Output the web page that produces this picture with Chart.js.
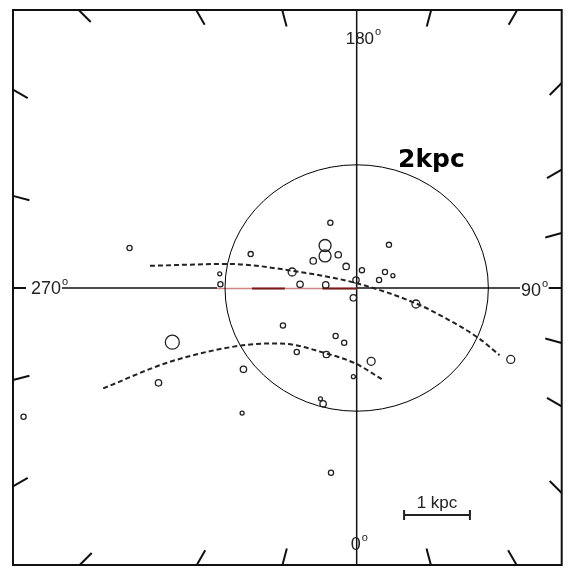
<!DOCTYPE html>
<html>
<head>
<meta charset="utf-8">
<script src="https://cdn.jsdelivr.net/npm/chart.js@4.4.0/dist/chart.umd.min.js"></script>
<style>
  html, body { margin: 0; padding: 0; background: #fff; }
  canvas { display: block; }
</style>
</head>
<body>
<canvas id="mapChart" width="570" height="575"></canvas>
<script>
// positions in kpc from the Sun: x toward l=90, y toward l=180
const clusterX = [-0.40, -0.48, -0.48, -0.28, -0.66, -0.16, -0.98, -0.01, 0.08, 0.49,
                  0.43, 0.55, 0.34, -1.61, -3.45, -2.08, -2.07, -0.86, -0.47, -0.05,
                  0.90, -1.12, -0.32, -0.19, -2.80, -0.91, -0.46, 0.22, -1.72, -3.01,
                  -0.05, -0.55, -0.51, 2.34, -5.06, -1.74, -0.39];
const clusterY = [1.06, 0.69, 0.52, 0.54, 0.44, 0.35, 0.26, 0.13, 0.29, 0.70,
                  0.26, 0.20, 0.13, 0.55, 0.65, 0.23, 0.06, 0.06, 0.05, -0.16,
                  -0.26, -0.61, -0.78, -0.89, -0.88, -1.04, -1.08, -1.19, -1.32, -1.54,
                  -1.44, -1.80, -1.88, -1.16, -2.09, -2.03, -3.00];
// symbol size class, 1 = smallest
const clusterSize = [2, 5, 5, 3, 3, 3, 4, 3, 2, 2,
                     2, 1, 2, 2, 2, 1, 2, 3, 3, 3,
                     4, 2, 2, 2, 6, 2, 3, 4, 3, 3,
                     1, 1, 3, 4, 2, 1, 2];

// dashed arm traces
const armUpperX = [-3.14, -1.96, -0.87, -0.01, 0.90, 1.35, 1.86, 2.17];
const armUpperY = [0.36, 0.39, 0.26, 0.08, -0.25, -0.49, -0.82, -1.09];
const armLowerX = [-3.85, -2.84, -1.73, -1.17, -0.47, -0.01, 0.38];
const armLowerY = [-1.63, -1.20, -0.93, -0.90, -1.06, -1.23, -1.48];

const longitudeLabels = ['0', '90', '180', '270'];
const circleRadius = 2;     // kpc
const circleLabel = '2kpc';
const barLabel = '1 kpc';
const barStart = 0.72;      // kpc
const barLength = 1;        // kpc
const barY = -3.685;
const redSpan = [-2.12, 0];
const redDark = [[-1.59, -1.09], [-0.52, 0]];
const tickStep = 15;        // degrees

const sizeRadius = [0, 2, 2.6, 3.2, 4, 6, 7];

function toPoints(xs, ys) {
  return xs.map((x, i) => ({ x: x, y: ys[i] }));
}

function frameTick(ctx, area, cx, cy, deg, len) {
  const a = deg * Math.PI / 180;
  const dx = Math.sin(a), dy = Math.cos(a);
  let t = Infinity;
  if (dx > 1e-9) t = Math.min(t, (area.right - cx) / dx);
  if (dx < -1e-9) t = Math.min(t, (area.left - cx) / dx);
  if (dy > 1e-9) t = Math.min(t, (area.bottom - cy) / dy);
  if (dy < -1e-9) t = Math.min(t, (area.top - cy) / dy);
  ctx.moveTo(cx + dx * t, cy + dy * t);
  ctx.lineTo(cx + dx * (t - len), cy + dy * (t - len));
}

function degLabel(ctx, txt, x, y, size) {
  ctx.font = size + 'px "Liberation Sans", Arial, sans-serif';
  ctx.textAlign = 'left';
  ctx.textBaseline = 'alphabetic';
  ctx.fillText(txt, x, y);
  const w = ctx.measureText(txt).width;
  ctx.font = '11px "Liberation Sans", Arial, sans-serif';
  ctx.fillText('o', x + w + 1, y - 9);
}

const mapFrame = {
  id: 'mapFrame',
  beforeDatasetsDraw(chart) {
    const ctx = chart.ctx, area = chart.chartArea;
    const xs = chart.scales.x, ys = chart.scales.y;
    const cx = xs.getPixelForValue(0), cy = ys.getPixelForValue(0);
    const r0 = xs.getPixelForValue(redSpan[0]), r1 = xs.getPixelForValue(redSpan[1]);
    ctx.save();
    ctx.strokeStyle = '#111';
    ctx.lineCap = 'butt';

    // frame
    ctx.lineWidth = 2;
    ctx.strokeRect(area.left, area.top, area.right - area.left, area.bottom - area.top);

    // longitude ticks on the frame
    ctx.beginPath();
    for (let d = tickStep; d < 360; d += tickStep) {
      if (d === 180) continue;
      frameTick(ctx, area, cx, cy, d, d % 90 === 0 ? 13 : 17);
    }
    ctx.stroke();

    // axes (the horizontal one turns red between r0 and r1)
    ctx.lineWidth = 1.5;
    ctx.beginPath();
    ctx.moveTo(cx, area.top);
    ctx.lineTo(cx, area.bottom);
    ctx.moveTo(62, cy);
    ctx.lineTo(r0, cy);
    ctx.moveTo(r1, cy);
    ctx.lineTo(520, cy);
    ctx.stroke();

    // red stretch along the axis
    ctx.strokeStyle = '#cf8585';
    ctx.lineWidth = 1.5;
    ctx.beginPath();
    ctx.moveTo(r0, cy + 0.5);
    ctx.lineTo(r1, cy + 0.5);
    ctx.stroke();
    ctx.strokeStyle = '#7a1a1a';
    ctx.lineWidth = 2;
    ctx.beginPath();
    redDark.forEach(s => {
      ctx.moveTo(xs.getPixelForValue(s[0]), cy + 0.5);
      ctx.lineTo(xs.getPixelForValue(s[1]), cy + 0.5);
    });
    ctx.stroke();

    // 2 kpc circle
    ctx.strokeStyle = '#000';
    ctx.lineWidth = 1;
    ctx.beginPath();
    ctx.ellipse(cx, cy, xs.getPixelForValue(circleRadius) - cx,
                cy - ys.getPixelForValue(circleRadius), 0, 0, Math.PI * 2);
    ctx.stroke();

    // scale bar
    const bx0 = xs.getPixelForValue(barStart), bx1 = xs.getPixelForValue(barStart + barLength);
    const by = ys.getPixelForValue(barY);
    ctx.strokeStyle = '#222';
    ctx.lineWidth = 2;
    ctx.beginPath();
    ctx.moveTo(bx0, by); ctx.lineTo(bx1, by);
    ctx.moveTo(bx0, by - 5); ctx.lineTo(bx0, by + 5);
    ctx.moveTo(bx1, by - 5); ctx.lineTo(bx1, by + 5);
    ctx.stroke();

    // labels
    ctx.fillStyle = '#222';
    degLabel(ctx, longitudeLabels[2], cx - 11, 44, 17);
    degLabel(ctx, longitudeLabels[3], 31, cy + 6, 18);
    degLabel(ctx, longitudeLabels[1], 521, cy + 8, 18);
    degLabel(ctx, longitudeLabels[0], cx - 6, 550, 18);

    ctx.font = '17px "Liberation Sans", Arial, sans-serif';
    ctx.textAlign = 'center';
    ctx.fillText(barLabel, (bx0 + bx1) / 2, 508);

    ctx.fillStyle = '#000';
    ctx.font = 'bold 25px "DejaVu Sans", sans-serif';
    ctx.textAlign = 'left';
    ctx.fillText(circleLabel, 398, 167);
    ctx.restore();
  }
};

new Chart(document.getElementById('mapChart'), {
  type: 'scatter',
  data: {
    datasets: [
      {
        label: 'clusters',
        data: toPoints(clusterX, clusterY),
        pointStyle: 'circle',
        pointRadius: clusterSize.map(c => sizeRadius[c]),
        pointBorderWidth: 1.3,
        borderColor: '#222',
        backgroundColor: 'rgba(0,0,0,0)',
        showLine: false
      },
      {
        label: 'arm upper',
        data: toPoints(armUpperX, armUpperY),
        showLine: true,
        borderColor: '#222',
        borderWidth: 2,
        borderDash: [5, 3],
        cubicInterpolationMode: 'monotone',
        pointRadius: 0
      },
      {
        label: 'arm lower',
        data: toPoints(armLowerX, armLowerY),
        showLine: true,
        borderColor: '#222',
        borderWidth: 2,
        borderDash: [5, 3],
        cubicInterpolationMode: 'monotone',
        pointRadius: 0
      }
    ]
  },
  options: {
    responsive: false,
    animation: false,
    layout: { padding: { left: 13, right: 7, top: 10, bottom: 10 } },
    scales: {
      x: { type: 'linear', min: -5.220, max: 3.114, display: false },
      y: { type: 'linear', min: -4.497, max: 4.513, display: false }
    },
    plugins: {
      legend: { display: false },
      tooltip: { enabled: false }
    }
  },
  plugins: [mapFrame]
});
</script>
</body>
</html>
